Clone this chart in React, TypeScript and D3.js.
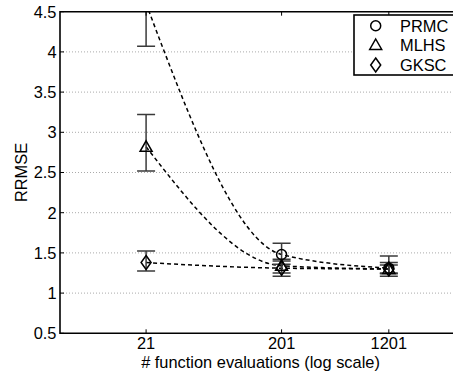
import React from "react";
import * as d3 from "d3";

// ---- data ----
const evals = [21, 201, 1201];
const xTickLabels = ["21", "201", "1201"];
const yTicks = [0.5, 1, 1.5, 2, 2.5, 3, 3.5, 4, 4.5];
const yTickLabels = ["0.5", "1", "1.5", "2", "2.5", "3", "3.5", "4", "4.5"];

const seriesNames = ["PRMC", "MLHS", "GKSC"];
const prmcMean = [4.6, 1.48, 1.31];
const prmcLow = [4.07, 1.36, 1.21];
const prmcHigh = [5.13, 1.62, 1.46];
const mlhsMean = [2.82, 1.34, 1.3];
const mlhsLow = [2.52, 1.25, 1.24];
const mlhsHigh = [3.22, 1.42, 1.38];
const gkscMean = [1.38, 1.31, 1.3];
const gkscLow = [1.275, 1.21, 1.25];
const gkscHigh = [1.525, 1.4, 1.35];

const W = 453;
const H = 373;
const FONT = "'Liberation Sans', Arial, Helvetica, sans-serif";
const FS = 16.4;

type Shape = "circle" | "triangle" | "diamond";

function Marker({ shape, cx, cy }: { shape: Shape; cx: number; cy: number }) {
  const common = { fill: "none", stroke: "#000", strokeWidth: 1.5 };
  if (shape === "circle") return <circle cx={cx} cy={cy} r={5} {...common} />;
  if (shape === "triangle")
    return (
      <path
        d={`M${cx},${cy - 6} L${cx + 6},${cy + 4.5} L${cx - 6},${cy + 4.5} Z`}
        {...common}
      />
    );
  return (
    <path
      d={`M${cx},${cy - 7} L${cx + 5},${cy} L${cx},${cy + 7} L${cx - 5},${cy} Z`}
      {...common}
    />
  );
}

export default function App() {
  const left = 60;
  const right = 461;
  const top = 11.7;
  const bottom = 333.3;

  const x = d3.scaleLog().domain([5, 4000]).range([left, right]);
  const y = d3.scaleLinear().domain([0.5, 4.5]).range([bottom, top]);

  const series = [
    { name: seriesNames[0], mean: prmcMean, low: prmcLow, high: prmcHigh, shape: "circle" as Shape },
    { name: seriesNames[1], mean: mlhsMean, low: mlhsLow, high: mlhsHigh, shape: "triangle" as Shape },
    { name: seriesNames[2], mean: gkscMean, low: gkscLow, high: gkscHigh, shape: "diamond" as Shape },
  ];

  const line = d3
    .line<number>()
    .x((_, i) => x(evals[i]))
    .y((d) => y(d))
    .curve(d3.curveMonotoneX);

  const capHalf = 9;
  const tickLen = 4;

  const legendX = 354;
  const legendY = 15;
  const legendRowY = [25.7, 45, 65];

  return (
    <svg
      width={W}
      height={H}
      style={{ position: "fixed", left: 0, top: 0, background: "#fff" }}
      fontFamily={FONT}
    >
      <rect x={0} y={0} width={W} height={H} fill="#fff" />
      <defs>
        <clipPath id="plotClip">
          <rect x={left} y={top} width={right - left} height={bottom - top} />
        </clipPath>
      </defs>

      {/* grid lines */}
      {yTicks
        .filter((t) => t > 0.5 && t < 4.5)
        .map((t) => (
          <line
            key={"g" + t}
            x1={left}
            x2={right}
            y1={y(t)}
            y2={y(t)}
            stroke="#aaaaaa"
            strokeWidth={1}
            strokeDasharray="1 2"
          />
        ))}

      <g clipPath="url(#plotClip)">
        {/* dashed curves */}
        {series.map((s) => (
          <path
            key={"c" + s.name}
            d={line(s.mean) || ""}
            fill="none"
            stroke="#000"
            strokeWidth={1.5}
            strokeDasharray="4 3"
          />
        ))}
        {/* error bars */}
        {series.map((s) =>
          evals.map((e, i) => {
            const cx = x(e);
            return (
              <g key={"e" + s.name + i} stroke="#3a3a3a" strokeWidth={1.5}>
                <line x1={cx} x2={cx} y1={y(s.low[i])} y2={y(s.high[i])} />
                <line x1={cx - capHalf} x2={cx + capHalf} y1={y(s.low[i])} y2={y(s.low[i])} />
                <line x1={cx - capHalf} x2={cx + capHalf} y1={y(s.high[i])} y2={y(s.high[i])} />
              </g>
            );
          })
        )}
        {/* markers */}
        {series.map((s) =>
          evals.map((e, i) => (
            <Marker key={"m" + s.name + i} shape={s.shape} cx={x(e)} cy={y(s.mean[i])} />
          ))
        )}
      </g>

      {/* axes box */}
      <g stroke="#000" strokeWidth={1.6} fill="none">
        <line x1={left} x2={left} y1={top - 0.8} y2={bottom + 0.8} />
        <line x1={left} x2={right} y1={bottom} y2={bottom} />
        <line x1={left} x2={right} y1={top} y2={top} />
        <line x1={right} x2={right} y1={top} y2={bottom} />
      </g>

      {/* ticks */}
      <g stroke="#000" strokeWidth={1}>
        {evals.map((e) => (
          <g key={"xt" + e}>
            <line x1={x(e)} x2={x(e)} y1={bottom} y2={bottom - tickLen} />
            <line x1={x(e)} x2={x(e)} y1={top} y2={top + tickLen} />
          </g>
        ))}
        {yTicks.map((t) => (
          <g key={"yt" + t}>
            <line x1={left} x2={left + tickLen} y1={y(t)} y2={y(t)} />
            <line x1={right} x2={right - tickLen} y1={y(t)} y2={y(t)} />
          </g>
        ))}
      </g>

      {/* tick labels */}
      <g fontSize={FS} fill="#000">
        {evals.map((e, i) => (
          <text key={"xl" + e} x={x(e)} y={349.4} textAnchor="middle">
            {xTickLabels[i]}
          </text>
        ))}
        {yTicks.map((t, i) => (
          <text key={"yl" + t} x={56.5} y={y(t) + 5.9} textAnchor="end">
            {yTickLabels[i]}
          </text>
        ))}
      </g>

      {/* axis labels */}
      <text x={(left + right) / 2} y={367.6} textAnchor="middle" fontSize={FS} fill="#000">
        # function evaluations (log scale)
      </text>
      <text
        transform={`translate(26.7, ${(top + bottom) / 2}) rotate(-90)`}
        textAnchor="middle"
        fontSize={FS}
        fill="#000"
      >
        RRMSE
      </text>

      {/* legend */}
      <rect
        x={legendX}
        y={legendY}
        width={104}
        height={60}
        fill="#fff"
        stroke="#000"
        strokeWidth={1.6}
      />
      {series.map((s, i) => (
        <g key={"lg" + s.name}>
          <Marker shape={s.shape} cx={375.7} cy={legendRowY[i]} />
          <text x={400} y={legendRowY[i] + 5.9} fontSize={FS} fill="#000">
            {s.name}
          </text>
        </g>
      ))}
    </svg>
  );
}
